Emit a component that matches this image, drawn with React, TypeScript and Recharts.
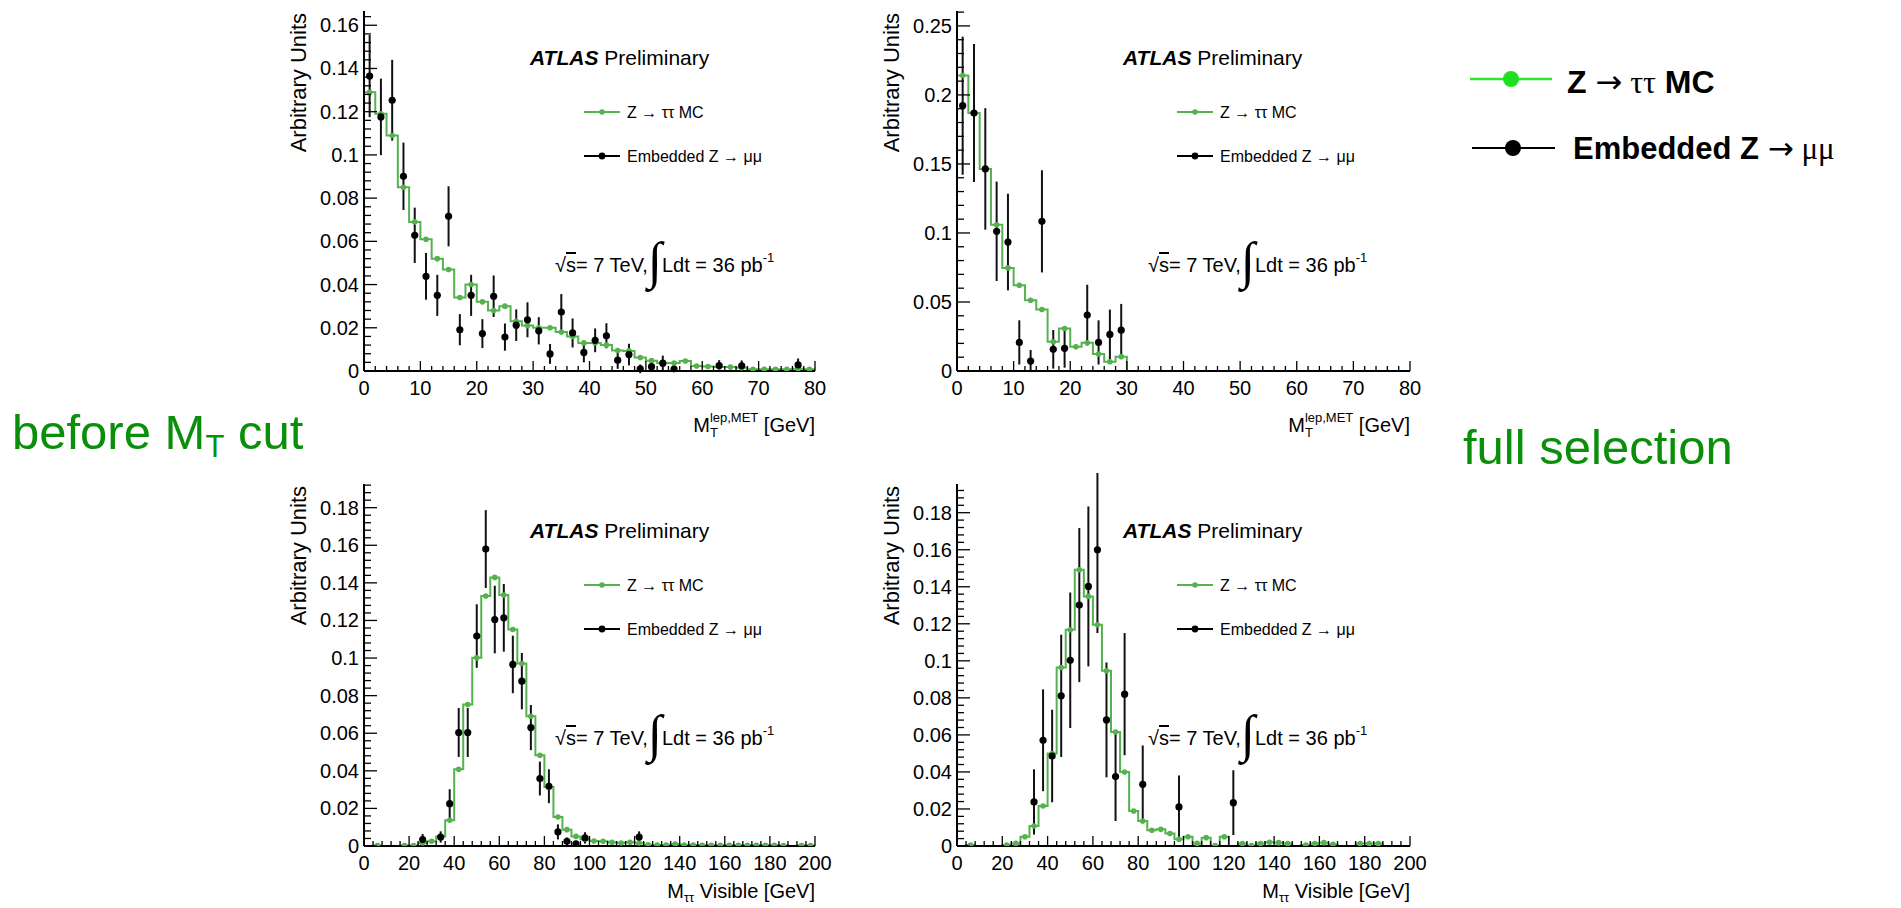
import React from "react";
import { ComposedChart, Line, Scatter, XAxis, YAxis, ErrorBar } from "recharts";

const FONT = "'Liberation Sans', Arial, Helvetica, sans-serif";
const MC_GREEN = "#55b24f";
const LABEL_GREEN = "#0a8f0a";

// ---- transverse mass M_T(lep, MET), 2 GeV bins ----
const mtBins = [
  1, 3, 5, 7, 9, 11, 13, 15, 17, 19, 21, 23, 25, 27, 29, 31, 33, 35, 37, 39,
  41, 43, 45, 47, 49, 51, 53, 55, 57, 59, 61, 63, 65, 67, 69, 71, 73, 75, 77, 79,
];

const mtMcBefore = [
  0.129, 0.119, 0.109, 0.085, 0.069, 0.061, 0.052, 0.047, 0.034, 0.04,
  0.032, 0.028, 0.03, 0.023, 0.021, 0.02, 0.02, 0.018, 0.016, 0.013,
  0.013, 0.012, 0.0095, 0.0093, 0.0062, 0.0048, 0.0037, 0.0037, 0.0046, 0.0023,
  0.0021, 0.0018, 0.0018, 0.0015, 0.0008, 0.0008, 0.0008, 0.0008, 0.001, 0.0008,
];
const mtEmbBefore = [
  0.1365, 0.1176, 0.1253, 0.0901, 0.0628, 0.0438, 0.035, 0.0716, 0.0191, 0.035,
  0.0173, 0.0346, 0.0157, 0.0212, 0.0237, 0.0186, 0.0079, 0.0273, 0.0176, 0.0086,
  0.0142, 0.0163, 0.005, 0.0076, 0.001, 0.002, 0.0036, 0.0009, null, null,
  null, 0.0025, null, 0.0024, null, null, null, null, 0.0028, null,
];
const mtEmbErrBefore = [
  0.019, 0.0177, 0.0187, 0.0156, 0.0128, 0.0108, 0.0095, 0.0139, 0.0072, 0.0095,
  0.0067, 0.0096, 0.0063, 0.0073, 0.0081, 0.0063, 0.0046, 0.0083, 0.0067, 0.0046,
  0.0055, 0.0058, 0.004, 0.005, 0.002, 0.0025, 0.0035, 0.0015, null, null,
  null, 0.0025, null, 0.0025, null, null, null, null, 0.003, null,
];

const mtMcFull = [
  0.2141, 0.1869, 0.1464, 0.106, 0.0747, 0.0621, 0.0513, 0.0446, 0.0212, 0.0308,
  0.0176, 0.0205, 0.0123, 0.0067, 0.0104, null, null, null, null, null,
  null, null, null, null, null, null, null, null, null, null,
  null, null, null, null, null, null, null, null, null, null,
];
const mtEmbFull = [
  0.1922, 0.1869, 0.1464, 0.1012, 0.0934, 0.0207, 0.0072, 0.1084, 0.0157, 0.0164,
  null, 0.0405, 0.0207, 0.0265, 0.0296, null, null, null, null, null,
  null, null, null, null, null, null, null, null, null, null,
  null, null, null, null, null, null, null, null, null, null,
];
const mtEmbErrFull = [
  0.05, 0.05, 0.044, 0.036, 0.035, 0.016, 0.008, 0.037, 0.014, 0.014,
  null, 0.022, 0.016, 0.018, 0.019, null, null, null, null, null,
  null, null, null, null, null, null, null, null, null, null,
  null, null, null, null, null, null, null, null, null, null,
];

// ---- visible mass M_tautau, 4 GeV bins ----
const mvisBins = [
  2, 6, 10, 14, 18, 22, 26, 30, 34, 38, 42, 46, 50, 54, 58, 62, 66, 70, 74, 78,
  82, 86, 90, 94, 98, 102, 106, 110, 114, 118, 122, 126, 130, 134, 138, 142, 146, 150, 154, 158,
  162, 166, 170, 174, 178, 182, 186, 190, 194, 198,
];

const mvisMcBefore = [
  null, 0.0003, null, null, 0.0002, 0.0002, 0.0016, 0.0025, 0.005, 0.0137,
  0.0408, 0.0753, 0.1001, 0.133, 0.1429, 0.1335, 0.1152, 0.0971, 0.069, 0.0483,
  0.0314, 0.0154, 0.0087, 0.0051, 0.0036, 0.0027, 0.0025, 0.002, 0.0016, 0.002,
  0.0016, 0.0006, 0.0005, 0.0005, 0.001, 0.0005, 0.0005, 0.0004, 0.0004, 0.0004,
  0.0004, 0.0004, 0.0004, 0.0004, 0.0004, 0.0004, 0.0003, null, 0.0003, 0.0003,
];
const mvisEmbBefore = [
  null, null, null, null, null, null, 0.0034, null, 0.0048, 0.0225,
  0.0604, 0.0604, 0.1117, 0.158, 0.1205, 0.1214, 0.0966, 0.0877, 0.063, 0.0359,
  0.0318, 0.0075, 0.0025, 0.0012, 0.0043, null, null, null, null, null,
  0.0048, null, null, null, null, null, null, null, null, null,
  null, null, null, null, null, null, null, null, null, null,
];
const mvisEmbErrBefore = [
  null, null, null, null, null, null, 0.003, null, 0.003, 0.0077,
  0.013, 0.013, 0.0169, 0.0207, 0.018, 0.018, 0.0153, 0.015, 0.012, 0.009,
  0.009, 0.004, 0.002, 0.0015, 0.003, null, null, null, null, null,
  0.003, null, null, null, null, null, null, null, null, null,
  null, null, null, null, null, null, null, null, null, null,
];

const mvisMcFull = [
  null, 0.0005, null, null, null, 0.0005, 0.0014, 0.005, 0.0108, 0.0216,
  0.0499, 0.0964, 0.1168, 0.1492, 0.1348, 0.1195, 0.0946, 0.0616, 0.04, 0.0189,
  0.0135, 0.0085, 0.009, 0.0067, 0.0036, 0.005, 0.0014, 0.0045, 0.0002, 0.005,
  null, 0.0013, 0.0002, 0.0013, 0.002, 0.0018, 0.0013, null, 0.0005, 0.0013,
  0.0018, 0.0009, null, null, 0.0013, 0.0013, 0.0013, null, null, null,
];
const mvisEmbFull = [
  null, null, null, null, null, null, null, null, 0.0238, 0.0571,
  0.0486, 0.0811, 0.1003, 0.1301, 0.1402, 0.16, 0.0681, 0.0375, 0.082, null,
  0.0333, null, null, null, 0.0211, null, null, null, null, null,
  0.0234, null, null, null, null, null, null, null, null, null,
  null, null, null, null, null, null, null, null, null, null,
];
const mvisEmbErrFull = [
  null, null, null, null, null, null, null, null, 0.0176, 0.0275,
  0.025, 0.033, 0.0366, 0.0416, 0.0432, 0.045, 0.031, 0.024, 0.033, null,
  0.021, null, null, null, 0.017, null, null, null, null, null,
  0.0175, null, null, null, null, null, null, null, null, null,
  null, null, null, null, null, null, null, null, null, null,
];

// axis tick labels
const mtTicks = [0, 10, 20, 30, 40, 50, 60, 70, 80];
const mvisTicks = [0, 20, 40, 60, 80, 100, 120, 140, 160, 180, 200];
const yTicksMtBefore = [0, 0.02, 0.04, 0.06, 0.08, 0.1, 0.12, 0.14, 0.16];
const yTicksMtFull = [0, 0.05, 0.1, 0.15, 0.2, 0.25];
const yTicksMvis = [0, 0.02, 0.04, 0.06, 0.08, 0.1, 0.12, 0.14, 0.16, 0.18];

type Val = number | null;

// histogram outline: bin centres plus both range edges so curveStep spans the full range
const stepRows = (bins: number[], vals: Val[], lo: number, hi: number) => {
  const rows = bins.map((b, i) => ({ x: b, y: vals[i] ?? 0 }));
  return [{ x: lo, y: rows[0].y }, ...rows, { x: hi, y: rows[rows.length - 1].y }];
};

const pointRows = (bins: number[], vals: Val[], errs?: Val[]) =>
  bins.flatMap((b, i) =>
    vals[i] == null ? [] : [{ x: b, y: vals[i] as number, err: errs ? errs[i] ?? 0 : 0 }]
  );

const tickRange = (max: number, step: number) => {
  const out: number[] = [];
  for (let i = 0; i * step <= max + 1e-9; i++) out.push(+(i * step).toFixed(6));
  return out;
};

const isMajor = (v: number, majors: number[]) => majors.some((m) => Math.abs(m - v) < 1e-9);
const fmt = (v: number) => String(+v.toFixed(3));

const AXIS_W = 94;
const MARGIN_T = 11;
const MARGIN_R = 32;

interface PanelProps {
  left: number;
  top: number;
  plotW: number;
  plotH: number;
  bins: number[];
  mc: Val[];
  emb: Val[];
  embErr: Val[];
  xMax: number;
  xMajor: number[];
  xMinorStep: number;
  yMax: number;
  yMajor: number[];
  yMinorStep: number;
}

function Panel(p: PanelProps) {
  const axisH = 60;
  const width = AXIS_W + p.plotW + MARGIN_R;
  const height = MARGIN_T + p.plotH + axisH;
  const xTicks = tickRange(p.xMax, p.xMinorStep);
  const yTicks = tickRange(p.yMax, p.yMinorStep);

  const line = stepRows(p.bins, p.mc, 0, p.xMax);
  const mcPts = pointRows(p.bins, p.mc);
  const embPts = pointRows(p.bins, p.emb, p.embErr);

  const bottomTick = (t: any) => {
    const major = isMajor(t.payload.value, p.xMajor);
    return (
      <g>
        <line x1={t.x} x2={t.x} y1={t.y} y2={t.y - (major ? 10 : 5)} stroke="#000" strokeWidth={1.3} />
        {major && (
          <text x={t.x} y={t.y + 24} textAnchor="middle" fontSize={20} fontFamily={FONT} fill="#000">
            {fmt(t.payload.value)}
          </text>
        )}
      </g>
    );
  };
  const topTick = (t: any) => {
    const major = isMajor(t.payload.value, p.xMajor);
    return <line x1={t.x} x2={t.x} y1={t.y} y2={t.y + (major ? 10 : 5)} stroke="#000" strokeWidth={1.3} />;
  };
  const leftTick = (t: any) => {
    const major = isMajor(t.payload.value, p.yMajor);
    return (
      <g>
        <line x1={t.x} x2={t.x + (major ? 13 : 7)} y1={t.y} y2={t.y} stroke="#000" strokeWidth={1.3} />
        {major && (
          <text x={t.x - 5} y={t.y + 7} textAnchor="end" fontSize={20} fontFamily={FONT} fill="#000">
            {fmt(t.payload.value)}
          </text>
        )}
      </g>
    );
  };
  const rightTick = (t: any) => {
    const major = isMajor(t.payload.value, p.yMajor);
    return <line x1={t.x} x2={t.x - (major ? 13 : 7)} y1={t.y} y2={t.y} stroke="#000" strokeWidth={1.3} />;
  };

  const frame = { stroke: "#000", strokeWidth: 2 };

  return (
    <div style={{ position: "absolute", left: p.left - AXIS_W, top: p.top - MARGIN_T }}>
      <ComposedChart width={width} height={height} margin={{ top: MARGIN_T, right: MARGIN_R, bottom: 0, left: 0 }}>
        <XAxis
          xAxisId="b"
          type="number"
          dataKey="x"
          domain={[0, p.xMax]}
          ticks={xTicks}
          interval={0}
          allowDataOverflow
          tickSize={0}
          tickMargin={0}
          tickLine={false}
          tick={bottomTick}
          axisLine={frame}
          height={axisH}
        />
        <XAxis
          xAxisId="t"
          orientation="top"
          type="number"
          dataKey="x"
          domain={[0, p.xMax]}
          ticks={xTicks}
          interval={0}
          allowDataOverflow
          tickSize={0}
          tickMargin={0}
          tickLine={false}
          tick={topTick}
          axisLine={frame}
          height={0}
        />
        <YAxis
          yAxisId="l"
          type="number"
          dataKey="y"
          domain={[0, p.yMax]}
          ticks={yTicks}
          interval={0}
          allowDataOverflow
          tickSize={0}
          tickMargin={0}
          tickLine={false}
          tick={leftTick}
          axisLine={frame}
          width={AXIS_W}
        />
        <YAxis
          yAxisId="r"
          orientation="right"
          type="number"
          dataKey="y"
          domain={[0, p.yMax]}
          ticks={yTicks}
          interval={0}
          allowDataOverflow
          tickSize={0}
          tickMargin={0}
          tickLine={false}
          tick={rightTick}
          axisLine={frame}
          width={0}
        />
        <Line
          xAxisId="b"
          yAxisId="l"
          data={line}
          dataKey="y"
          type="step"
          stroke={MC_GREEN}
          strokeWidth={2}
          dot={false}
          activeDot={false}
          isAnimationActive={false}
        />
        <Scatter
          xAxisId="b"
          yAxisId="l"
          data={mcPts}
          dataKey="y"
          isAnimationActive={false}
          shape={(s: any) => <circle cx={s.cx} cy={s.cy} r={2.8} fill={MC_GREEN} />}
        />
        <Scatter
          xAxisId="b"
          yAxisId="l"
          data={embPts}
          dataKey="y"
          isAnimationActive={false}
          shape={(s: any) => <circle cx={s.cx} cy={s.cy} r={3.6} fill="#000" />}
        >
          <ErrorBar dataKey="err" direction="y" width={0} stroke="#111" strokeWidth={2} />
        </Scatter>
      </ComposedChart>
    </div>
  );
}

// ATLAS label, in-frame legend and luminosity line, positioned from the frame corner
function PanelNotes({ fl, ft }: { fl: number; ft: number }) {
  return (
    <g fontFamily={FONT} fill="#000">
      <text x={fl + 166} y={ft + 54} fontSize={21}>
        <tspan fontWeight="bold" fontStyle="italic">ATLAS</tspan>
        <tspan> Preliminary</tspan>
      </text>
      <line x1={fl + 220} x2={fl + 256} y1={ft + 101} y2={ft + 101} stroke={MC_GREEN} strokeWidth={2} />
      <circle cx={fl + 238} cy={ft + 101} r={2.8} fill={MC_GREEN} />
      <text x={fl + 263} y={ft + 107} fontSize={16}>{"Z \u2192 \u03c4\u03c4 MC"}</text>
      <line x1={fl + 220} x2={fl + 256} y1={ft + 145} y2={ft + 145} stroke="#000" strokeWidth={2} />
      <circle cx={fl + 238} cy={ft + 145} r={3.4} fill="#000" />
      <text x={fl + 263} y={ft + 151} fontSize={16}>{"Embedded Z \u2192 \u03bc\u03bc"}</text>
      <text x={fl + 191} y={ft + 261} fontSize={20}>
        <tspan>{"\u221a"}</tspan>
        <tspan style={{ textDecoration: "overline" }}>s</tspan>
        <tspan>{"= 7 TeV,"}</tspan>
        <tspan fontSize={52} dy={6} fontFamily="'Liberation Serif', serif">
          {"\u222b"}
        </tspan>
        <tspan dy={-6}>{"Ldt = 36 pb"}</tspan>
        <tspan fontSize={13} dy={-10}>{"-1"}</tspan>
      </text>
    </g>
  );
}

function YTitle({ fl, ft }: { fl: number; ft: number }) {
  return (
    <text
      transform={`translate(${fl - 58}, ${ft + 2}) rotate(-90)`}
      textAnchor="end"
      fontSize={22}
      fontFamily={FONT}
      fill="#000"
    >
      Arbitrary Units
    </text>
  );
}

function MtTitle({ fr, y }: { fr: number; y: number }) {
  return (
    <text x={fr} y={y} textAnchor="end" fontSize={20} fontFamily={FONT} fill="#000">
      M
      <tspan fontSize={13} dy={5}>T</tspan>
      <tspan fontSize={13} dx={-8} dy={-15}>lep,MET</tspan>
      <tspan dy={10}>{" [GeV]"}</tspan>
    </text>
  );
}

function MvisTitle({ fr, y }: { fr: number; y: number }) {
  return (
    <text x={fr} y={y} textAnchor="end" fontSize={20} fontFamily={FONT} fill="#000">
      M
      <tspan fontSize={13} dy={4}>{"\u03c4\u03c4"}</tspan>
      <tspan dy={-4}>{" Visible [GeV]"}</tspan>
    </text>
  );
}

export default function App() {
  const L = 364;
  const R = 957;
  const T = 11;
  const B = 484;
  return (
    <div
      style={{
        position: "absolute",
        left: 0,
        top: 0,
        width: 1901,
        height: 908,
        background: "#fff",
        overflow: "hidden",
      }}
    >
      <Panel left={L} top={T} plotW={451} plotH={360} bins={mtBins} mc={mtMcBefore} emb={mtEmbBefore}
        embErr={mtEmbErrBefore} xMax={80} xMajor={mtTicks} xMinorStep={2} yMax={0.1666}
        yMajor={yTicksMtBefore} yMinorStep={0.004} />
      <Panel left={R} top={T} plotW={453} plotH={360} bins={mtBins} mc={mtMcFull} emb={mtEmbFull}
        embErr={mtEmbErrFull} xMax={80} xMajor={mtTicks} xMinorStep={2} yMax={0.2608}
        yMajor={yTicksMtFull} yMinorStep={0.01} />
      <Panel left={L} top={B} plotW={451} plotH={362} bins={mvisBins} mc={mvisMcBefore} emb={mvisEmbBefore}
        embErr={mvisEmbErrBefore} xMax={200} xMajor={mvisTicks} xMinorStep={4} yMax={0.1926}
        yMajor={yTicksMvis} yMinorStep={0.004} />
      <Panel left={R} top={B} plotW={453} plotH={362} bins={mvisBins} mc={mvisMcFull} emb={mvisEmbFull}
        embErr={mvisEmbErrFull} xMax={200} xMajor={mvisTicks} xMinorStep={4} yMax={0.1955}
        yMajor={yTicksMvis} yMinorStep={0.004} />

      <svg
        width={1901}
        height={908}
        style={{ position: "absolute", left: 0, top: 0, pointerEvents: "none" }}
      >
        <PanelNotes fl={L} ft={T} />
        <PanelNotes fl={R} ft={T} />
        <PanelNotes fl={L} ft={B} />
        <PanelNotes fl={R} ft={B} />
        <YTitle fl={L} ft={T} />
        <YTitle fl={R} ft={T} />
        <YTitle fl={L} ft={B} />
        <YTitle fl={R} ft={B} />
        <MtTitle fr={815} y={432} />
        <MtTitle fr={1410} y={432} />
        <MvisTitle fr={815} y={898} />
        <MvisTitle fr={1410} y={898} />

        {/* shared legend */}
        <g fontFamily={FONT} fill="#000">
          <line x1={1470} x2={1552} y1={79} y2={79} stroke="#2ee82e" strokeWidth={2.5} />
          <circle cx={1511} cy={79} r={8} fill="#1fe01f" />
          <text x={1567} y={93} fontSize={32} fontWeight="bold">
            Z{" "}
            <tspan fontWeight="normal" fontFamily="'DejaVu Sans', sans-serif">{"\u2192"}</tspan>
            <tspan fontWeight="normal" fontFamily="'Liberation Serif', serif">{" \u03c4\u03c4"}</tspan> MC
          </text>
          <line x1={1472} x2={1555} y1={148} y2={148} stroke="#000" strokeWidth={2} />
          <circle cx={1513} cy={148} r={8} fill="#000" />
          <text x={1573} y={159} fontSize={31} fontWeight="bold">
            Embedded Z{" "}
            <tspan fontWeight="normal" fontFamily="'DejaVu Sans', sans-serif">{"\u2192"}</tspan>
            <tspan fontWeight="normal" fontFamily="'Liberation Serif', serif">{" \u03bc\u03bc"}</tspan>
          </text>
        </g>

        <text x={12} y={449} fontSize={49} fontFamily={FONT} fill={LABEL_GREEN}>
          before M
          <tspan fontSize={31} dy={8}>T</tspan>
          <tspan dy={-8}>{" cut"}</tspan>
        </text>
        <text x={1463} y={464} fontSize={49} fontFamily={FONT} fill={LABEL_GREEN}>
          full selection
        </text>
      </svg>
    </div>
  );
}
